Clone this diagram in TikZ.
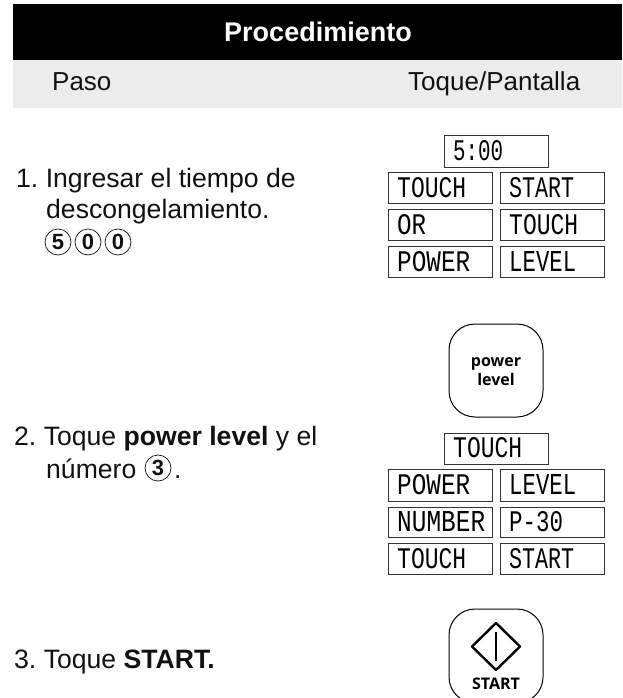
\documentclass[tikz,border=0pt]{standalone}
\usepackage{fontspec}
\usepackage{graphicx}
\setmainfont{Liberation Sans}
\newfontfamily\lcdfont{Liberation Mono}
\newfontfamily\keyfont{Open Sans}
\definecolor{band}{HTML}{ECECEC}
\definecolor{ink}{HTML}{111111}
\definecolor{lcdline}{HTML}{333333}
\newcommand{\lcdtext}[2]{\resizebox{#1pt}{20pt}{\lcdfont #2}}
\frenchspacing
\tikzset{
  body/.style={anchor=base west,inner sep=0pt,text=ink,font=\fontsize{26.6}{26.6}\selectfont},
  head/.style={anchor=base west,inner sep=0pt,text=ink,font=\fontsize{26}{26}\selectfont},
  lcdbox/.style={draw=lcdline,line width=0.9pt,fill=white},
  lcdlabel/.style={anchor=south west,inner sep=0pt,text=black},
  keybox/.style={draw=black,line width=1pt,rounded corners=26pt},
  keylabel/.style={anchor=base,inner sep=0pt,text=black,font=\keyfont\bfseries\fontsize{16}{16}\selectfont},
  numcircle/.style={circle,draw=ink,line width=0.7pt,minimum size=26pt,inner sep=0pt,text=ink,font=\bfseries\fontsize{22}{22}\selectfont}
}
\begin{document}
\begin{tikzpicture}[x=1pt,y=-1pt]
\useasboundingbox (0,0) rectangle (622,698);
\clip (0,0) rectangle (622,698);
% header
\fill[black] (13,4) rectangle (622,60);
\fill[band] (13,60) rectangle (622,108);
\node[anchor=base,inner sep=0pt,text=white,font=\bfseries\fontsize{27}{27}\selectfont] (title) at (318,42) {Procedimiento};
\node[head] (paso) at (52,91) {Paso};
\node[head] (toque) at (408,91) {Toque/Pantalla};
% step 1
\node[body] (s1a) at (16,187) {1. Ingresar el tiempo de};
\node[body] (s1b) at (46,218) {descongelamiento.};
\node[numcircle] (c5) at (58,242) {5};
\node[numcircle] (c0a) at (88,242) {0};
\node[numcircle] (c0b) at (118,242) {0};
% step 2
\node[body] (s2a) at (14,445) {2. Toque \textbf{power level} y el};
\node[body] (s2b) at (46,478) {número};
\node[numcircle] (c3) at (158,468) {3};
\node[body] (s2c) at (174,478) {.};
% step 3
\node[body] (s3) at (14,668) {3. Toque \textbf{START.}};
% display 1
\draw[lcdbox] (444,135) rectangle (548,167);
\node[lcdlabel] (d1t) at (453,161) {\lcdtext{50}{5:00}};
\draw[lcdbox] (388,172) rectangle (492,203);
\node[lcdlabel] (d1a) at (397,198) {\lcdtext{69}{TOUCH}};
\draw[lcdbox] (500,172) rectangle (604,203);
\node[lcdlabel] (d1b) at (509,198) {\lcdtext{65}{START}};
\draw[lcdbox] (388,209) rectangle (492,240);
\node[lcdlabel] (d1c) at (397,235) {\lcdtext{29}{OR}};
\draw[lcdbox] (500,209) rectangle (604,240);
\node[lcdlabel] (d1d) at (509,235) {\lcdtext{69}{TOUCH}};
\draw[lcdbox] (388,246) rectangle (492,277);
\node[lcdlabel] (d1e) at (397,272) {\lcdtext{73}{POWER}};
\draw[lcdbox] (500,246) rectangle (604,277);
\node[lcdlabel] (d1f) at (509,272) {\lcdtext{67}{LEVEL}};
% power level key
\draw[keybox] (449,324) rectangle (543,417);
\node[keylabel] (kp1) at (496,366) {power};
\node[keylabel] (kp2) at (496,385) {level};
% display 2
\draw[lcdbox] (444,433) rectangle (548,464);
\node[lcdlabel] (d2t) at (453,458) {\lcdtext{69}{TOUCH}};
\draw[lcdbox] (388,469) rectangle (492,501);
\node[lcdlabel] (d2a) at (397,495) {\lcdtext{73}{POWER}};
\draw[lcdbox] (500,469) rectangle (604,501);
\node[lcdlabel] (d2b) at (509,495) {\lcdtext{67}{LEVEL}};
\draw[lcdbox] (388,507) rectangle (492,537);
\node[lcdlabel] (d2c) at (397,532) {\lcdtext{88}{NUMBER}};
\draw[lcdbox] (500,507) rectangle (604,537);
\node[lcdlabel] (d2d) at (509,532) {\lcdtext{54}{P-30}};
\draw[lcdbox] (388,543) rectangle (492,574);
\node[lcdlabel] (d2e) at (397,569) {\lcdtext{69}{TOUCH}};
\draw[lcdbox] (500,543) rectangle (604,574);
\node[lcdlabel] (d2f) at (509,569) {\lcdtext{65}{START}};
% start key
\draw[keybox] (449,609) rectangle (543,703);
\draw[black,line width=2.4pt,line join=round] (472,646.5) -- (496,623) -- (520,646.5) -- (496,670) -- cycle;
\draw[black,line width=2.4pt] (496,632) -- (496,661);
\node[keylabel] (ks) at (496,689) {START};
\end{tikzpicture}
\end{document}
